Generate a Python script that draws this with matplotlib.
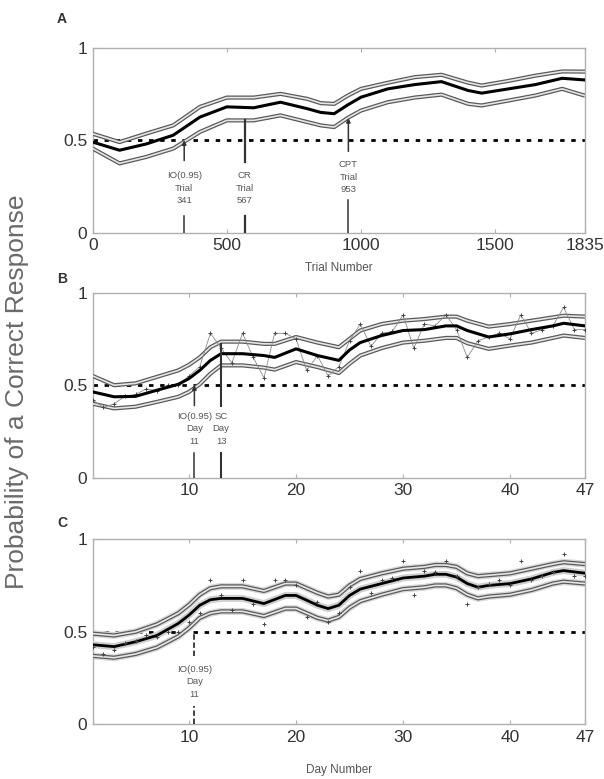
import matplotlib
matplotlib.use('Agg')
import matplotlib.pyplot as plt

plt.rcParams['font.family'] = ['Liberation Sans', 'DejaVu Sans']

# ---- panel A: trial-by-trial curve
trial_x = [0, 100, 200, 300, 400, 500, 600, 700, 800, 850, 900, 950, 1000,
           1100, 1200, 1300, 1400, 1450, 1550, 1650, 1750, 1835]
trial_mean = [0.49, 0.446, 0.48, 0.527, 0.625, 0.68, 0.675, 0.705, 0.67, 0.65,
              0.643, 0.69, 0.732, 0.777, 0.80, 0.816, 0.768, 0.754, 0.777,
              0.80, 0.834, 0.825]
trial_upper = [0.535, 0.49, 0.536, 0.58, 0.68, 0.73, 0.73, 0.75, 0.723, 0.70,
               0.696, 0.74, 0.777, 0.81, 0.84, 0.853, 0.81, 0.795, 0.82,
               0.848, 0.871, 0.87]
trial_lower = [0.455, 0.375, 0.41, 0.455, 0.545, 0.607, 0.607, 0.634, 0.598,
               0.58, 0.571, 0.62, 0.66, 0.705, 0.73, 0.746, 0.696, 0.6875,
               0.714, 0.741, 0.777, 0.74]

# ---- panel B: day-by-day curve
dayB = [1, 3, 5, 7, 9, 10, 11, 12, 13, 15, 17, 18, 20, 22, 24, 25, 26, 28, 30,
        32, 34, 35, 36, 38, 40, 42, 44, 45, 47]
B_mean = [0.464, 0.4375, 0.44, 0.473, 0.505, 0.536, 0.58, 0.634, 0.67, 0.67,
          0.66, 0.65, 0.696, 0.66, 0.634, 0.69, 0.73, 0.768, 0.795, 0.80, 0.82,
          0.82, 0.795, 0.76, 0.777, 0.80, 0.82, 0.834, 0.82]
B_upper = [0.55, 0.50, 0.51, 0.545, 0.58, 0.61, 0.65, 0.705, 0.735, 0.735,
           0.723, 0.723, 0.76, 0.73, 0.705, 0.75, 0.795, 0.83, 0.848, 0.857,
           0.87, 0.87, 0.848, 0.816, 0.83, 0.848, 0.866, 0.875, 0.87]
B_lower = [0.40, 0.375, 0.384, 0.41, 0.4375, 0.464, 0.505, 0.5625, 0.607,
           0.607, 0.595, 0.584, 0.625, 0.598, 0.566, 0.616, 0.66, 0.70, 0.73,
           0.74, 0.755, 0.755, 0.727, 0.696, 0.714, 0.73, 0.755, 0.768, 0.755]

# raw daily proportion correct
days = list(range(1, 48))
raw = [0.42, 0.38, 0.40, 0.44, 0.45, 0.48, 0.47, 0.50, 0.50, 0.55, 0.60, 0.78,
       0.70, 0.62, 0.78, 0.65, 0.54, 0.78, 0.78, 0.75, 0.58, 0.66, 0.55, 0.60,
       0.74, 0.83, 0.71, 0.78, 0.79, 0.88, 0.70, 0.83, 0.82, 0.88, 0.80, 0.65,
       0.74, 0.76, 0.78, 0.75, 0.88, 0.78, 0.80, 0.82, 0.92, 0.80, 0.80]

# ---- panel C: second model
dayC = [1, 3, 5, 7, 9, 10, 11, 12, 13, 15, 17, 19, 20, 21, 22, 23, 24, 25, 26,
        28, 30, 32, 33, 34, 35, 36, 37, 38, 40, 42, 44, 45, 47]
C_mean = [0.43, 0.42, 0.446, 0.48, 0.545, 0.59, 0.643, 0.673, 0.68, 0.68,
          0.652, 0.696, 0.696, 0.67, 0.643, 0.625, 0.643, 0.696, 0.73, 0.76,
          0.79, 0.80, 0.81, 0.81, 0.795, 0.76, 0.74, 0.75, 0.76, 0.785, 0.82,
          0.83, 0.816]
C_upper = [0.49, 0.48, 0.50, 0.54, 0.60, 0.645, 0.70, 0.735, 0.745, 0.745,
           0.72, 0.76, 0.76, 0.735, 0.71, 0.69, 0.70, 0.75, 0.785, 0.815,
           0.84, 0.85, 0.86, 0.86, 0.85, 0.815, 0.80, 0.805, 0.815, 0.84,
           0.865, 0.875, 0.865]
C_lower = [0.37, 0.36, 0.38, 0.415, 0.475, 0.52, 0.575, 0.60, 0.61, 0.61,
           0.585, 0.625, 0.625, 0.60, 0.575, 0.56, 0.58, 0.63, 0.665, 0.70,
           0.73, 0.74, 0.75, 0.75, 0.735, 0.70, 0.68, 0.69, 0.70, 0.725,
           0.76, 0.77, 0.76]

A_ticks = [0, 500, 1000, 1500, 1835]
day_ticks = [10, 20, 30, 40, 47]
y_ticks = [0, 0.5, 1]
y_ticklabels = ['0', '0.5', '1']

fig = plt.figure(figsize=(6.04, 7.79), dpi=100)
L, W, H = 0.1535, 0.815, 0.238
axA = fig.add_axes([L, 0.701, W, H])
axB = fig.add_axes([L, 0.3865, W, H])
axC = fig.add_axes([L, 0.070, W, H])

TXT = '#555555'
NOTE_FS = 6.8
NOTE_LS = 1.5


def style(ax, xlim, xticks):
    ax.set_xlim(*xlim)
    ax.set_ylim(0, 1)
    ax.set_xticks(xticks)
    ax.set_yticks(y_ticks)
    ax.set_yticklabels(y_ticklabels)
    for s in ax.spines.values():
        s.set_color('#b0b0b0')
        s.set_linewidth(1.0)
    ax.tick_params(direction='in', top=True, right=False, length=3,
                   color='#b0b0b0', labelsize=12.5, labelcolor='#333333',
                   pad=4)
    ax.axhline(0.5, color='black', lw=2, linestyle=(0, (1.6, 2.4)), zorder=2)


def bound(ax, x, y):
    ax.plot(x, y, color='#5a5a5a', lw=3.0, zorder=3, solid_capstyle='butt')
    ax.plot(x, y, color='#e6e6e6', lw=1.2, zorder=3.1)


def marker_line(ax, x, lo, hi, text_y, text, lo2=None, arrow=True, lw=1.1):
    # upper segment with arrowhead pointing up
    if arrow:
        ax.annotate('', xy=(x, hi), xytext=(x, lo),
                    arrowprops=dict(arrowstyle='-|>', lw=lw, color='#333333',
                                    mutation_scale=6, shrinkA=0, shrinkB=0),
                    zorder=5)
    else:
        ax.plot([x, x], [lo, hi], color='#333333', lw=lw, zorder=5)
    ax.plot([x, x], [0, lo2], color='#333333', lw=lw, zorder=5)
    ax.text(x, text_y, text, ha='center', va='center', fontsize=NOTE_FS,
            color=TXT, linespacing=NOTE_LS)


# panel A
style(axA, (0, 1835), A_ticks)
bound(axA, trial_x, trial_upper)
bound(axA, trial_x, trial_lower)
axA.plot(trial_x, trial_mean, color='black', lw=2.2, zorder=4)
marker_line(axA, 341, 0.39, 0.50, 0.24, 'IO(0.95)\nTrial\n341', lo2=0.09)
marker_line(axA, 567, 0.38, 0.61, 0.24, 'CR\nTrial\n567', lo2=0.09,
            arrow=False, lw=1.6)
marker_line(axA, 953, 0.44, 0.62, 0.30, 'CPT\nTrial\n953', lo2=0.18)
axA.set_xlabel('Trial Number', fontsize=8.5, color=TXT, labelpad=6)

# panel B
style(axB, (1, 47), day_ticks)
axB.plot(days, raw, color='#8a8a8a', lw=0.6, marker='+', ms=3.5, mew=0.7,
         mec='#444444', zorder=3.5)
bound(axB, dayB, B_upper)
bound(axB, dayB, B_lower)
axB.plot(dayB, B_mean, color='black', lw=2.2, zorder=4)
marker_line(axB, 10.5, 0.39, 0.50, 0.265, 'IO(0.95)\nDay\n11', lo2=0.135)
marker_line(axB, 13, 0.39, 0.72, 0.265, 'SC\nDay\n13', lo2=0.135,
            arrow=False, lw=1.5)

# panel C
style(axC, (1, 47), day_ticks)
axC.plot(dayC, C_upper, color='#d8d8d8', lw=5, zorder=2.5)
axC.plot(dayC, C_lower, color='#d8d8d8', lw=5, zorder=2.5)
bound(axC, dayC, C_upper)
bound(axC, dayC, C_lower)
axC.plot(dayC, C_mean, color='#d0d0d0', lw=5, zorder=3.6)
axC.plot(dayC, C_mean, color='black', lw=2.0, zorder=4)
axC.plot(days, raw, linestyle='none', marker='+', ms=3.5, mew=0.7,
         mec='#444444', zorder=4.5)
axC.plot([10.5, 10.5], [0.37, 0.5], color='#333333', lw=1.3,
         linestyle=(0, (3, 1.5)), zorder=5)
axC.plot([10.5, 10.5], [0, 0.1], color='#333333', lw=1.3,
         linestyle=(0, (3, 1.5)), zorder=5)
axC.text(10.5, 0.23, 'IO(0.95)\nDay\n11', ha='center', va='center',
         fontsize=NOTE_FS, color=TXT, linespacing=NOTE_LS)
axC.set_xlabel('Day Number', fontsize=8.5, color=TXT, labelpad=14)

# panel letters
for lab, yy in [('A', 19), ('B', 279), ('C', 523)]:
    fig.text(62 / 604, 1 - yy / 779, lab, fontsize=10, fontweight='bold',
             color='#333333', ha='center', va='center')

fig.text(17 / 604, 1 - 392 / 779, 'Probability of a Correct Response',
         rotation=90, ha='center', va='center', fontsize=19, color='#6a6a6a')

fig.savefig('out.png', dpi=100)
